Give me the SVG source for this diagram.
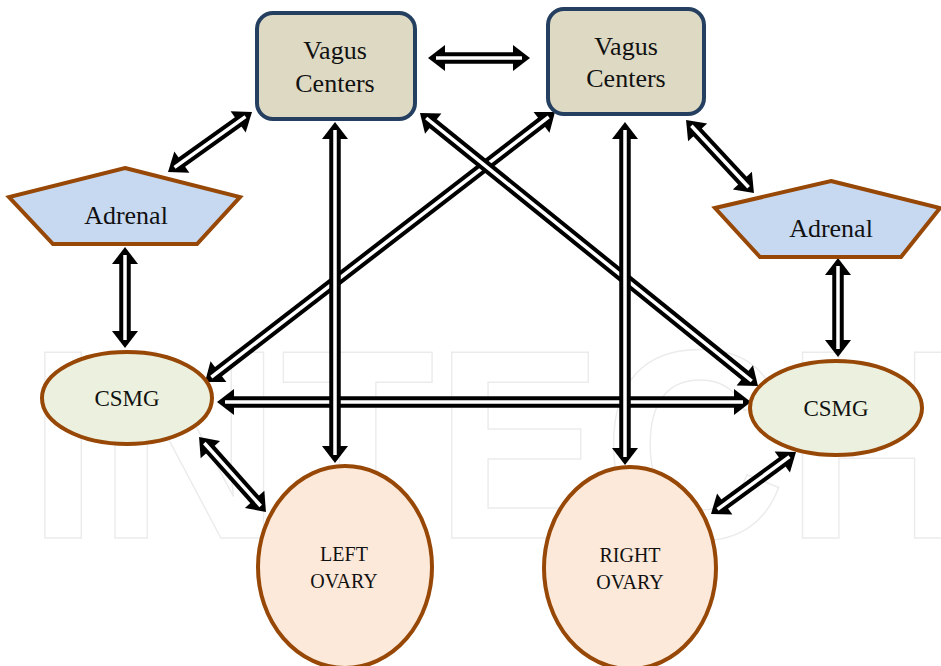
<svg xmlns="http://www.w3.org/2000/svg" width="941" height="666" viewBox="0 0 941 666">
<style>
.wm{font-family:"Liberation Sans",Arial,sans-serif;font-weight:bold;font-size:270px;fill:none;stroke:#ebebeb;stroke-width:1.5}
.sh{fill:none;stroke:#000;stroke-width:11.5;marker-start:url(#hd);marker-end:url(#hd)}
.in{fill:none;stroke:#fff;stroke-width:3.5}
.vag{fill:#ddd9c3;stroke:#243f60;stroke-width:4}
.adr{fill:#c6d9f1;stroke:#974706;stroke-width:4;stroke-linejoin:miter}
.csm{fill:#ebf1de;stroke:#974706;stroke-width:4}
.ova{fill:#fde9d9;stroke:#974706;stroke-width:4}
.t{font-family:"Liberation Serif","Times New Roman",serif;fill:#111;text-anchor:middle}
</style>
<defs>
<marker id="hd" markerUnits="userSpaceOnUse" orient="auto-start-reverse" refX="0" refY="0" markerWidth="20" markerHeight="30" overflow="visible">
<path d="M13,0 L-4,-13 L-4,13 Z" fill="#000"/>
</marker>
</defs>
<rect width="941" height="666" fill="#fff"/>
<text class="wm" x="28" y="538" textLength="940" lengthAdjust="spacingAndGlyphs">INTECH</text>
<g id="connectors">
<g><path class="sh" d="M441,58 L517,58"/><path class="in" d="M436,58 L522,58"/></g>
<g><path class="sh" d="M241.4,119.6 L178.6,164.4"/><path class="in" d="M245.5,116.6 L174.5,167.4"/></g>
<g><path class="sh" d="M125,260 L125,335"/><path class="in" d="M125,255 L125,340"/></g>
<g><path class="sh" d="M230,402 L738,402"/><path class="in" d="M225,402 L743,402"/></g>
<g><path class="sh" d="M544.7,119.9 L215.3,374.1"/><path class="in" d="M548.7,116.9 L211.3,377.1"/></g>
<g><path class="sh" d="M430.1,121.2 L747.9,377.8"/><path class="in" d="M426.2,118 L751.8,381"/></g>
<g><path class="sh" d="M335,135 L335,450"/><path class="in" d="M335,130 L335,455"/></g>
<g><path class="sh" d="M625,135 L625,452"/><path class="in" d="M625,130 L625,457"/></g>
<g><path class="sh" d="M694.9,129.5 L745.1,183.5"/><path class="in" d="M691.4,125.8 L748.6,187.2"/></g>
<g><path class="sh" d="M838,271 L838,344"/><path class="in" d="M838,266 L838,349"/></g>
<g><path class="sh" d="M207.7,446.7 L257.3,502.3"/><path class="in" d="M204.3,443 L260.7,506"/></g>
<g><path class="sh" d="M785.5,459.7 L721.5,506.3"/><path class="in" d="M789.5,456.7 L717.5,509.3"/></g>
</g>
<g id="vagus-left">
<rect class="vag" x="257" y="13" width="158" height="106" rx="16"/>
<text class="t" x="335" y="59" font-size="26">Vagus</text>
<text class="t" x="335" y="92" font-size="26">Centers</text>
</g>
<g id="vagus-right">
<rect class="vag" x="548" y="9" width="156" height="105" rx="16"/>
<text class="t" x="626" y="55" font-size="26">Vagus</text>
<text class="t" x="626" y="87" font-size="26">Centers</text>
</g>
<g id="adrenal-left">
<polygon class="adr" points="125,168 240,197 197,244 53,244 9,197"/>
<text class="t" x="126" y="224" font-size="26">Adrenal</text>
</g>
<g id="adrenal-right">
<polygon class="adr" points="831,181 940,208 901,257 760,257 715,208"/>
<text class="t" x="831" y="237" font-size="26">Adrenal</text>
</g>
<g id="csmg-left">
<ellipse class="csm" cx="127" cy="398" rx="85" ry="46"/>
<text class="t" x="127" y="406" font-size="23">CSMG</text>
</g>
<g id="csmg-right">
<ellipse class="csm" cx="836" cy="408" rx="86" ry="47"/>
<text class="t" x="836" y="416" font-size="23">CSMG</text>
</g>
<g id="left-ovary">
<ellipse class="ova" cx="345" cy="567" rx="87" ry="101"/>
<text class="t" x="344" y="561" font-size="20">LEFT</text>
<text class="t" x="344" y="588" font-size="20">OVARY</text>
</g>
<g id="right-ovary">
<ellipse class="ova" cx="630" cy="568" rx="86" ry="101"/>
<text class="t" x="630" y="562" font-size="20">RIGHT</text>
<text class="t" x="630" y="589" font-size="20">OVARY</text>
</g>
</svg>
